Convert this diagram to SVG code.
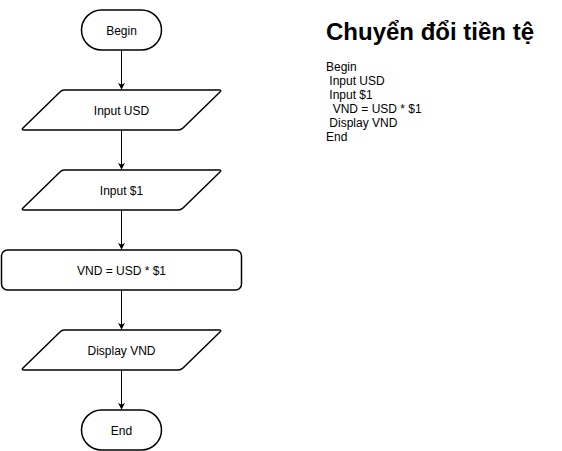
<svg xmlns="http://www.w3.org/2000/svg" width="562" height="451" viewBox="0 0 562 451">
<defs>
<style>
.shape{fill:#fff;stroke:#000;stroke-width:1.5;stroke-linejoin:round}
.lbl{font-family:"Liberation Sans",Arial,sans-serif;font-size:12px;fill:#000;text-anchor:middle}
.edge{stroke:#000;stroke-width:1;fill:none}
.txt{font-family:"Liberation Sans",Arial,sans-serif;font-size:12px;fill:#000;white-space:pre}
</style>
<marker id="arr" viewBox="0 0 10 10" refX="9" refY="5" markerWidth="7" markerHeight="7" markerUnits="userSpaceOnUse" orient="auto">
<path d="M0,0 L10,5 L0,10 L3,5 Z" fill="#000"/>
</marker>
</defs>
<rect width="562" height="451" fill="#fff"/>
<g id="connectors">
<line class="edge" x1="121.5" y1="50" x2="121.5" y2="89" marker-end="url(#arr)"/>
<line class="edge" x1="121.5" y1="130" x2="121.5" y2="169" marker-end="url(#arr)"/>
<line class="edge" x1="121.5" y1="210" x2="121.5" y2="249" marker-end="url(#arr)"/>
<line class="edge" x1="121.5" y1="290" x2="121.5" y2="329" marker-end="url(#arr)"/>
<line class="edge" x1="121.5" y1="370" x2="121.5" y2="409" marker-end="url(#arr)"/>
</g>
<g id="begin">
<rect class="shape" x="81.5" y="10" width="80" height="40" rx="20" ry="20"/>
<text class="lbl" x="121.5" y="34.5">Begin</text>
</g>
<g id="input-usd">
<path class="shape" d="M64,90 L219,90 Q222,90 220,92 L183,128 Q181,130 178,130 L24,130 Q21,130 23,128 L60,92 Q62,90 64,90 Z"/>
<text class="lbl" x="121.5" y="114.5">Input USD</text>
</g>
<g id="input-1">
<path class="shape" d="M64,170 L219,170 Q222,170 220,172 L183,208 Q181,210 178,210 L24,210 Q21,210 23,208 L60,172 Q62,170 64,170 Z"/>
<text class="lbl" x="121.5" y="194.5">Input $1</text>
</g>
<g id="compute">
<rect class="shape" x="1.5" y="250" width="240" height="40" rx="6" ry="6"/>
<text class="lbl" x="121.5" y="274.5">VND = USD * $1</text>
</g>
<g id="display">
<path class="shape" d="M64,330 L219,330 Q222,330 220,332 L183,368 Q181,370 178,370 L24,370 Q21,370 23,368 L60,332 Q62,330 64,330 Z"/>
<text class="lbl" x="121.5" y="354.5">Display VND</text>
</g>
<g id="end">
<rect class="shape" x="81.5" y="410" width="80" height="40" rx="20" ry="20"/>
<text class="lbl" x="121.5" y="434.5">End</text>
</g>
<g id="notes">
<text x="326" y="40" style="font-family:'Liberation Sans',Arial,sans-serif;font-size:24px;font-weight:bold;fill:#000">Chuyển đổi tiền tệ</text>
<text class="txt" x="326" y="71">Begin</text>
<text class="txt" x="326" y="85"> Input USD</text>
<text class="txt" x="326" y="99"> Input $1</text>
<text class="txt" x="326" y="113">  VND = USD * $1</text>
<text class="txt" x="326" y="127"> Display VND</text>
<text class="txt" x="326" y="141">End</text>
</g>
</svg>
